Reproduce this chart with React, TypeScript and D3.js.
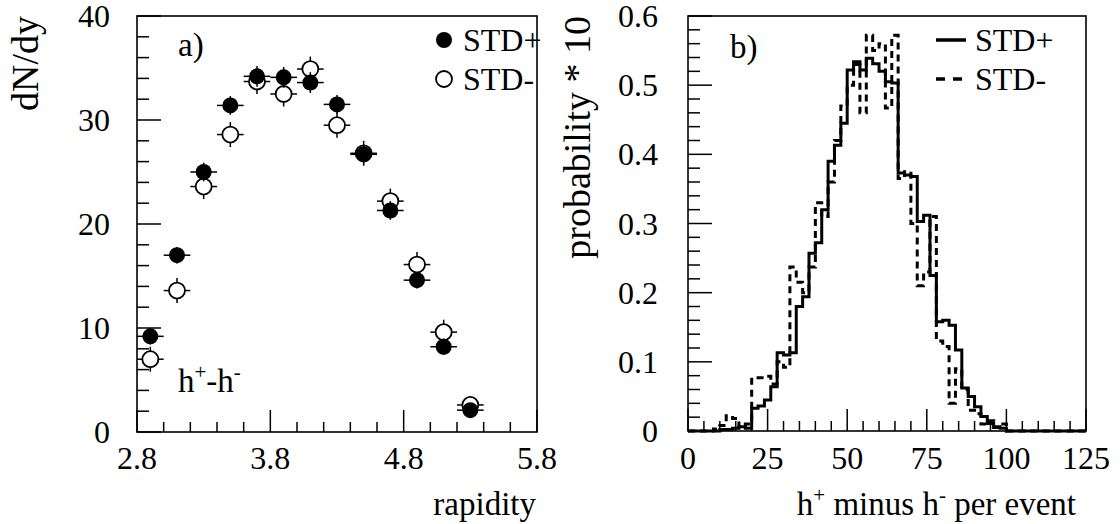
import React from "react";
import * as d3 from "d3";

// ---------- data ----------
const rapidity = [2.9, 3.1, 3.3, 3.5, 3.7, 3.9, 4.1, 4.3, 4.5, 4.7, 4.9, 5.1, 5.3];
const stdPlus = [9.2, 17.0, 25.0, 31.4, 34.2, 34.1, 33.6, 31.5, 26.7, 21.3, 14.6, 8.2, 2.1];
const stdMinus = [7.0, 13.6, 23.6, 28.6, 33.7, 32.5, 34.9, 29.5, 26.8, 22.2, 16.1, 9.6, 2.6];
const errPlus = [0.8, 0.8, 0.9, 0.9, 1.0, 1.0, 1.0, 0.9, 0.9, 0.9, 0.8, 0.8, 0.6];
const errMinus = [1.2, 1.2, 1.2, 1.2, 1.2, 1.2, 1.2, 1.2, 1.2, 1.2, 1.2, 1.2, 0.8];
const rapidityTicks = [2.8, 3.8, 4.8, 5.8];
const dndyTicks = [0, 10, 20, 30, 40];

// histogram: bins of width 2 starting at 0
const binWidth = 2;
const histPlus = [
  0, 0, 0, 0, 0, 0.002, 0.002, 0.004, 0.006, 0.004,
  0.033, 0.036, 0.045, 0.064, 0.113, 0.110, 0.113, 0.18, 0.194, 0.257,
  0.272, 0.32, 0.39, 0.413, 0.445, 0.522, 0.534, 0.522, 0.539, 0.531,
  0.52, 0.505, 0.503, 0.373, 0.37, 0.368, 0.303, 0.312, 0.225, 0.158,
  0.16, 0.153, 0.117, 0.062, 0.05, 0.035, 0.021, 0.011, 0.006, 0.004,
];
const histMinus = [
  0, 0, 0, 0, 0.003, 0.008, 0.022, 0.018, 0.006, 0.01,
  0.077, 0.077, 0.079, 0.068, 0.1, 0.092, 0.237, 0.215, 0.2, 0.237,
  0.33, 0.31, 0.36, 0.42, 0.47, 0.5, 0.53, 0.46, 0.572, 0.55,
  0.56, 0.467, 0.572, 0.365, 0.375, 0.3, 0.21, 0.23, 0.31, 0.13,
  0.122, 0.04, 0.09, 0.06, 0.03, 0.025, 0.01, 0.015, 0.005, 0.01,
];
const multTicks = [0, 25, 50, 75, 100, 125];
const probTicks = [0, 0.1, 0.2, 0.3, 0.4, 0.5, 0.6];

// ---------- layout ----------
const W = 1120;
const H = 524;
const FONT = '"Liberation Serif", "Times New Roman", Times, serif';
const TICK_FS = 32;
const TITLE_FS = 33;
const YTITLE_FS = 38;

const xL = d3.scaleLinear().domain([2.8, 5.8]).range([137, 537]);
const yL = d3.scaleLinear().domain([0, 40]).range([432, 16]);
const xR = d3.scaleLinear().domain([0, 125]).range([688, 1086]);
const yR = d3.scaleLinear().domain([0, 0.6]).range([431, 16]);

function histPoints(vals: number[]): [number, number][] {
  const pts: [number, number][] = [[0, 0]];
  vals.forEach((v, i) => pts.push([i * binWidth, v]));
  const end = vals.length * binWidth;
  pts.push([end, 0]);
  pts.push([125, 0]);
  return pts;
}

const histLine = d3
  .line<[number, number]>()
  .x((d) => xR(d[0]))
  .y((d) => yR(d[1]))
  .curve(d3.curveStepAfter);

export default function App() {
  const minorXL = d3.range(2.8, 5.8001, 0.2);
  const minorYL = d3.range(0, 40.001, 2);
  const minorXR = d3.range(0, 125.001, 5);
  const minorYR = d3.range(0, 0.6001, 0.02);
  const r = 8;
  const [l0, l1] = [137, 537];
  const [b0, t0] = [432, 16];
  const [rl, rr] = [688, 1086];
  const [rb, rt] = [431, 16];

  return (
    <svg
      width={W}
      height={H}
      style={{ position: "absolute", left: 0, top: 0, background: "#fff", fontFamily: FONT }}
    >
      <rect x={0} y={0} width={W} height={H} fill="#fff" />
      {/* ---------------- LEFT PANEL ---------------- */}
      <rect x={l0} y={t0} width={l1 - l0} height={b0 - t0} fill="none" stroke="#000" strokeWidth={1.6} />
      {minorXL.map((v, i) => {
        const major = rapidityTicks.some((t) => Math.abs(t - v) < 1e-6);
        return (
          <line key={"xl" + i} x1={xL(v)} x2={xL(v)} y1={b0} y2={b0 - (major ? 22 : 10)} stroke="#000" strokeWidth={1.5} />
        );
      })}
      {minorYL.map((v, i) => {
        const major = dndyTicks.some((t) => Math.abs(t - v) < 1e-6);
        return (
          <line key={"yl" + i} x1={l0} x2={l0 + (major ? 24 : 12)} y1={yL(v)} y2={yL(v)} stroke="#000" strokeWidth={1.5} />
        );
      })}
      {rapidityTicks.map((t) => (
        <text key={"xlt" + t} x={xL(t)} y={469} fontSize={TICK_FS} textAnchor="middle">
          {t.toFixed(1)}
        </text>
      ))}
      {dndyTicks.map((t) => (
        <text key={"ylt" + t} x={110} y={yL(t) + 11} fontSize={TICK_FS} textAnchor="end">
          {t}
        </text>
      ))}
      <text x={536} y={515} fontSize={TITLE_FS} textAnchor="end">rapidity</text>
      <text transform="translate(38,16) rotate(-90)" fontSize={YTITLE_FS} textAnchor="end">dN/dy</text>
      <text x={178} y={56} fontSize={TITLE_FS}>a)</text>
      <text x={178} y={392} fontSize={TITLE_FS}>
        h<tspan fontSize={21} dy={-13}>+</tspan>
        <tspan dy={13}>-h</tspan>
        <tspan fontSize={21} dy={-13}>-</tspan>
      </text>

      {/* error bars + markers: open (STD-) */}
      {rapidity.map((x, i) => (
        <g key={"om" + i}>
          <line x1={xL(x - 0.1)} x2={xL(x + 0.1)} y1={yL(stdMinus[i])} y2={yL(stdMinus[i])} stroke="#000" strokeWidth={1.5} />
          <line x1={xL(x)} x2={xL(x)} y1={yL(stdMinus[i] - errMinus[i])} y2={yL(stdMinus[i] + errMinus[i])} stroke="#000" strokeWidth={1.5} />
          <circle cx={xL(x)} cy={yL(stdMinus[i])} r={r} fill="#fff" stroke="#000" strokeWidth={1.8} />
        </g>
      ))}
      {rapidity.map((x, i) => (
        <g key={"fm" + i}>
          <line x1={xL(x - 0.1)} x2={xL(x + 0.1)} y1={yL(stdPlus[i])} y2={yL(stdPlus[i])} stroke="#000" strokeWidth={1.5} />
          <line x1={xL(x)} x2={xL(x)} y1={yL(stdPlus[i] - errPlus[i])} y2={yL(stdPlus[i] + errPlus[i])} stroke="#000" strokeWidth={1.5} />
          <circle cx={xL(x)} cy={yL(stdPlus[i])} r={r} fill="#000" />
        </g>
      ))}
      {/* legend left */}
      <circle cx={444} cy={40} r={r} fill="#000" />
      <text x={463} y={51} fontSize={TICK_FS}>STD+</text>
      <circle cx={444} cy={79} r={r} fill="#fff" stroke="#000" strokeWidth={1.8} />
      <text x={463} y={90} fontSize={TICK_FS}>STD-</text>

      {/* ---------------- RIGHT PANEL ---------------- */}
      <rect x={rl} y={rt} width={rr - rl} height={rb - rt} fill="none" stroke="#000" strokeWidth={1.6} />
      {minorXR.map((v, i) => {
        const major = multTicks.some((t) => Math.abs(t - v) < 1e-6);
        return (
          <line key={"xr" + i} x1={xR(v)} x2={xR(v)} y1={rb} y2={rb - (major ? 22 : 10)} stroke="#000" strokeWidth={1.5} />
        );
      })}
      {minorYR.map((v, i) => {
        const major = probTicks.some((t) => Math.abs(t - v) < 1e-6);
        return (
          <line key={"yr" + i} x1={rl} x2={rl + (major ? 24 : 12)} y1={yR(v)} y2={yR(v)} stroke="#000" strokeWidth={1.5} />
        );
      })}
      {multTicks.map((t) => (
        <text key={"xrt" + t} x={xR(t)} y={469} fontSize={TICK_FS} textAnchor="middle">
          {t}
        </text>
      ))}
      {probTicks.map((t) => (
        <text key={"yrt" + t} x={658} y={yR(t) + 11} fontSize={TICK_FS} textAnchor="end">
          {t === 0 ? "0" : t.toFixed(1)}
        </text>
      ))}
      <text x={1076} y={515} fontSize={TITLE_FS} textAnchor="end">
        h<tspan fontSize={21} dy={-13}>+</tspan>
        <tspan dy={13}> minus h</tspan>
        <tspan fontSize={21} dy={-13}>-</tspan>
        <tspan dy={13}> per event</tspan>
      </text>
      <text transform="translate(590,16) rotate(-90)" fontSize={YTITLE_FS} textAnchor="end">probability * 10</text>
      <text x={730} y={58} fontSize={TITLE_FS}>b)</text>

      <path d={histLine(histPoints(histMinus)) || ""} fill="none" stroke="#000" strokeWidth={3} strokeDasharray="7 5" />
      <path d={histLine(histPoints(histPlus)) || ""} fill="none" stroke="#000" strokeWidth={3} />

      {/* legend right */}
      <line x1={936} x2={966} y1={40} y2={40} stroke="#000" strokeWidth={3.5} />
      <text x={975} y={51} fontSize={TICK_FS}>STD+</text>
      <line x1={936} x2={966} y1={79} y2={79} stroke="#000" strokeWidth={3.5} strokeDasharray="9 8" />
      <text x={975} y={90} fontSize={TICK_FS}>STD-</text>
    </svg>
  );
}
